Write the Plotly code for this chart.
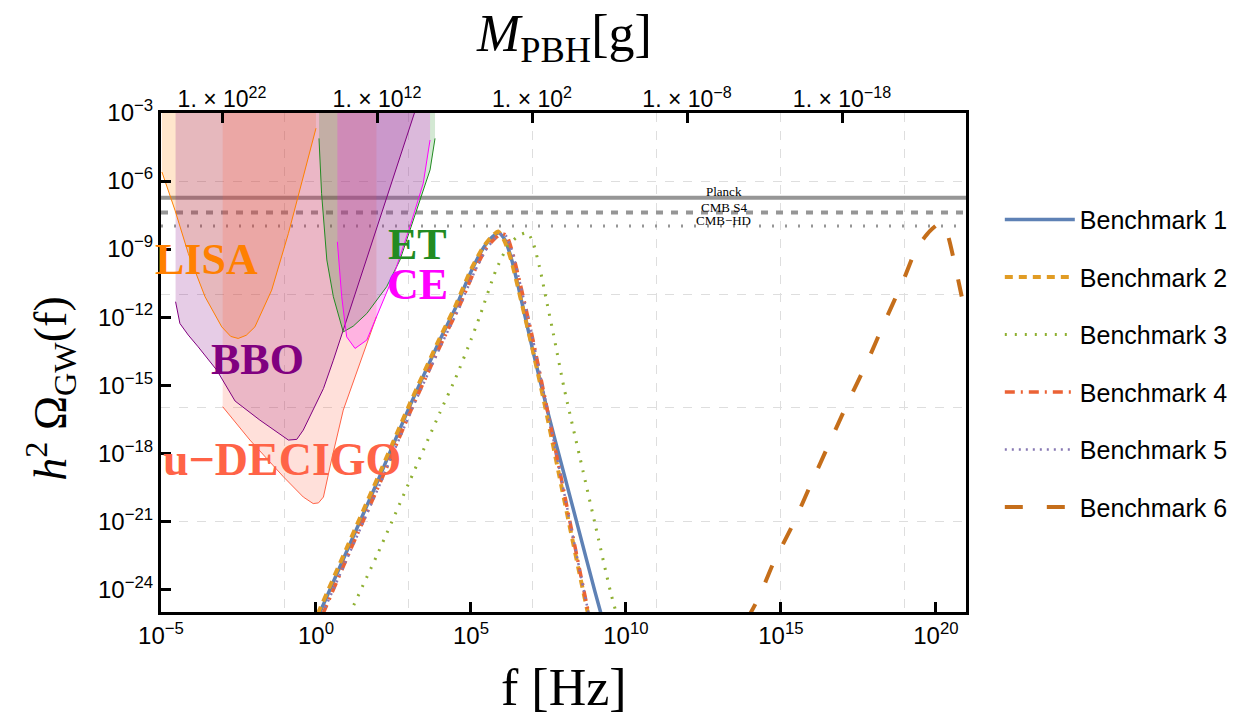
import numpy as np
import plotly.graph_objects as go

# ---------------- data (log10 f [Hz], log10 h^2 Omega_GW) ----------------
b1_logf = [0.10, 1.0, 2.0, 3.0, 4.0, 4.5, 5.0, 5.4, 5.7, 5.9, 6.1, 6.3, 6.5, 7.0, 7.5, 8.0, 8.5, 9.0, 9.2]
b1_logo = [-25.1, -22.3, -19.2, -16.0, -13.0, -11.6, -10.0, -8.95, -8.45, -8.28, -8.6, -9.4, -10.5, -13.5, -16.3, -18.9, -21.5, -24.1, -25.1]

b2_logf = [0.05, 1.0, 2.0, 3.0, 4.0, 4.5, 5.0, 5.4, 5.7, 5.88, 6.1, 6.3, 6.5, 7.0, 7.4, 8.0, 8.5, 8.78]
b2_logo = [-25.1, -22.15, -19.05, -15.9, -12.9, -11.5, -9.9, -8.9, -8.4, -8.22, -8.7, -9.5, -10.6, -13.5, -16.0, -20.0, -23.3, -25.1]

b3_logf = [1.08, 2.0, 3.0, 4.0, 4.5, 5.0, 5.3, 5.8, 6.2, 6.55, 6.82, 7.0, 7.23, 7.44, 7.66, 8.0, 8.5, 9.0, 9.5, 9.72]
b3_logo = [-25.1, -22.4, -19.3, -16.2, -14.7, -13.0, -11.9, -9.95, -8.85, -8.4, -8.28, -8.7, -9.9, -11.3, -12.75, -15.1, -18.1, -21.1, -24.1, -25.2]

b4_logf = [0.22, 1.1, 2.1, 3.1, 4.1, 4.6, 5.1, 5.5, 5.8, 6.0, 6.15, 6.35, 6.6, 7.0, 7.45, 8.0, 8.5, 8.8]
b4_logo = [-25.1, -22.3, -19.2, -16.0, -13.0, -11.6, -10.0, -8.95, -8.5, -8.32, -8.4, -9.2, -10.6, -13.0, -16.0, -19.7, -23.1, -25.1]

b5_logf = [0.2, 1.1, 2.1, 3.1, 4.1, 4.6, 5.1, 5.5, 5.8, 6.02, 6.15, 6.35, 6.6, 7.0, 7.45, 8.0, 8.5, 8.8]
b5_logo = [-25.1, -22.35, -19.25, -16.05, -13.05, -11.65, -10.05, -9.0, -8.5, -8.3, -8.45, -9.2, -10.6, -13.0, -16.0, -19.7, -23.1, -25.1]

b6_logf = [13.9, 14.32, 14.75, 15.4, 16.0, 16.58, 17.17, 17.76, 18.35, 18.95, 19.38, 19.81, 20.05, 20.22, 20.4, 20.72, 20.97]
b6_logo = [-25.35, -24.26, -22.86, -21.1, -19.26, -17.5, -15.73, -14.04, -12.2, -10.37, -8.95, -8.2, -7.92, -7.87, -8.46, -10.37, -12.0]

# detector sensitivity curves
lisa_logf = [-4.97, -4.55, -4.12, -3.58, -3.04, -2.75, -2.51, -2.25, -1.97, -1.43, -0.89, -0.46, 0.0]
lisa_logo = [-5.60, -7.28, -9.19, -11.10, -12.43, -12.85, -12.94, -12.8, -12.43, -10.81, -8.31, -6.10, -3.67]

bbo_logf = [-4.53, -4.39, -4.12, -3.80, -3.20, -2.61, -1.81, -0.89, -0.62, -0.41, 0.24, 0.56, 1.2, 2.0, 2.8, 3.2]
bbo_logo = [-11.32, -12.28, -12.79, -13.31, -14.34, -15.70, -16.54, -17.42, -17.39, -16.98, -15.15, -13.9, -11.24, -7.9, -4.6, -2.9]

decigo_logf = [-3.01, -2.13, -1.05, -0.41, -0.09, 0.08, 0.24, 0.5, 0.88, 1.3, 1.63, 1.95]
decigo_logo = [-15.95, -17.42, -19.04, -19.93, -20.22, -20.19, -19.93, -18.3, -16.1, -14.5, -13.25, -11.98]

et_logf = [0.097, 0.18, 0.35, 0.56, 0.88, 1.2, 1.64, 2.28, 2.71, 3.25, 3.68, 3.84]
et_logo = [-4.12, -6.54, -9.48, -11.10, -12.65, -12.4, -11.84, -10.66, -9.48, -7.28, -5.51, -4.12]

ce_logf = [0.69, 0.83, 0.99, 1.26, 1.64, 1.95, 2.49, 3.03, 3.46, 3.68]
ce_logo = [-8.68, -11.10, -12.87, -13.38, -13.01, -11.98, -10.22, -8.02, -6.10, -4.19]

# CMB bounds (log10 h^2 Omega)
cmb_names = ["Planck", "CMB S4", "CMB\u2212HD"]
cmb_levels = [-6.74, -7.39, -7.98]

# axes
logf_range = [-5.0, 20.97]
logo_range = [-25.0, -3.0]
x_ticks_log = [-5, 0, 5, 10, 15, 20]
y_ticks_log = [-3, -6, -9, -12, -15, -18, -21, -24]
x_grid_log = [-1, 3, 7, 11, 15, 19]
y_grid_log = [-6, -11, -16, -21]
mpbh_ticks_log = [22, 12, 2, -8, -18]
mpbh_logC = 15.94  # log10 f = (logC - log10 M)/2

bench_names = ["Benchmark 1", "Benchmark 2", "Benchmark 3", "Benchmark 4", "Benchmark 5", "Benchmark 6"]
bench_colors = ["#5E81B5", "#E19C24", "#8FB032", "#EB6235", "#8778B3", "#C56E1A"]
bench_dash = ["solid", "8px,6px", "2px,8px", "10px,6px,2px,6px", "2px,5px", "18px,24px"]
bench_width = [3.5, 4, 3, 3.5, 2.5, 4]

def p(v):
    return [10.0 ** a for a in v]

fig = go.Figure()

# CMB lines
gray = "rgb(150,150,150)"
cmb_dash = ["solid", "7px,8px", "2px,11px"]
cmb_width = [4, 4, 3]
xr = p(logf_range)
for lev, d, w in zip(cmb_levels, cmb_dash, cmb_width):
    fig.add_trace(go.Scatter(x=xr, y=[10.0 ** lev] * 2, mode="lines",
                             line=dict(color=gray, width=w, dash=d),
                             showlegend=False, hoverinfo="skip"))

# detector regions
top = logo_range[1]
detectors = [
    (lisa_logf, lisa_logo, (255, 128, 0)),
    (bbo_logf, bbo_logo, (128, 0, 128)),
    (decigo_logf, decigo_logo, (255, 99, 71)),
    (et_logf, et_logo, (34, 139, 34)),
    (ce_logf, ce_logo, (255, 0, 255)),
]
for lf, lo, c in detectors:
    px = lf + [lf[-1], lf[0], lf[0]]
    py = lo + [top, top, lo[0]]
    fig.add_trace(go.Scatter(x=p(px), y=p(py), mode="lines", fill="toself",
                             fillcolor="rgba(%d,%d,%d,0.2)" % c,
                             line=dict(width=0), showlegend=False, hoverinfo="skip"))
# detector boundary curves (on the top M_PBH axis, same f range)
for lf, lo, c in detectors:
    fig.add_trace(go.Scatter(x=p(lf), y=p(lo), mode="lines", xaxis="x2", yaxis="y",
                             line=dict(color="rgb(%d,%d,%d)" % c, width=1),
                             showlegend=False, hoverinfo="skip"))

# benchmarks (on the grid axes, same ranges)
bench = [(b1_logf, b1_logo), (b2_logf, b2_logo), (b3_logf, b3_logo),
         (b4_logf, b4_logo), (b5_logf, b5_logo), (b6_logf, b6_logo)]
for i, (lf, lo) in enumerate(bench):
    fig.add_trace(go.Scatter(x=p(lf), y=p(lo), mode="lines", name=bench_names[i],
                             xaxis="x3", yaxis="y2", legendgroup=bench_names[i],
                             line=dict(color=bench_colors[i], width=bench_width[i],
                                       dash=bench_dash[i], shape="spline", smoothing=0.6)))

tickfont = dict(family="Liberation Sans, Arial", size=24, color="black")

def sup(e):
    return "10<sup>%s</sup>" % (str(e).replace("-", "\u2212"))

fig.update_layout(
    width=1238, height=716,
    margin=dict(l=161, r=272, t=113, b=104, autoexpand=False),
    plot_bgcolor="white", paper_bgcolor="white",
    xaxis=dict(type="log", range=logf_range, showgrid=False, zeroline=False,
               tickvals=p(x_ticks_log), ticktext=[sup(e) for e in x_ticks_log],
               ticks="inside", ticklen=10, tickwidth=3, tickcolor="black",
               showline=True, linewidth=3, linecolor="black", mirror=True,
               tickfont=tickfont),
    xaxis2=dict(type="log", range=logf_range, overlaying="x", side="top", anchor="y",
                showgrid=False, zeroline=False,
                tickvals=[10.0 ** ((mpbh_logC - m) / 2) for m in mpbh_ticks_log],
                ticktext=["1. \u00d7 10<sup>%s</sup>" % str(m).replace("-", "\u2212") for m in mpbh_ticks_log],
                ticks="inside", ticklen=10, tickwidth=3, tickcolor="black",
                showline=False, tickfont=dict(family="Liberation Sans, Arial", size=23, color="black")),
    xaxis3=dict(type="log", range=logf_range, overlaying="x", anchor="y2",
                showgrid=True, gridcolor="rgb(222,222,222)", griddash="dash", gridwidth=1,
                tickvals=p(x_grid_log), showticklabels=False, ticks="", zeroline=False,
                showline=False),
    yaxis=dict(type="log", range=logo_range, showgrid=False, zeroline=False,
               tickvals=p(y_ticks_log), ticktext=[sup(e) for e in y_ticks_log],
               ticks="inside", ticklen=10, tickwidth=3, tickcolor="black",
               showline=True, linewidth=3, linecolor="black", mirror=True,
               tickfont=tickfont),
    yaxis2=dict(type="log", range=logo_range, overlaying="y", anchor="x3",
                showgrid=True, gridcolor="rgb(222,222,222)", griddash="dash", gridwidth=1,
                tickvals=p(y_grid_log), showticklabels=False, ticks="", zeroline=False,
                showline=False),
    legend=dict(x=1.042, y=0.832, xanchor="left", yanchor="top", itemwidth=70,
                font=dict(family="Liberation Sans, Arial", size=25, color="black"),
                tracegroupgap=22, bgcolor="rgba(0,0,0,0)"),
)

serif = "Liberation Serif, Times New Roman, serif"
ann = []
labels = [("LISA", -3.52, -9.48, "#FF8000", 44), ("BBO", -1.90, -13.85, "#800080", 44),
          ("u\u2212DECIGO", -1.10, -18.26, "#FF6347", 46), ("ET", 3.27, -8.78, "#228B22", 44),
          ("CE", 3.29, -10.54, "#FF00FF", 44)]
for t, lx, ly, c, s in labels:
    ann.append(dict(x=lx, y=ly, xref="x", yref="y", text="<b>%s</b>" % t, showarrow=False,
                    xanchor="center", yanchor="middle",
                    font=dict(family=serif, size=s, color=c)))
for name, ly in zip(cmb_names, [-6.44, -7.15, -7.76]):
    ann.append(dict(x=13.16, y=ly, xref="x", yref="y", text=name, showarrow=False,
                    xanchor="center", yanchor="middle",
                    font=dict(family=serif, size=13, color="black")))
ann.append(dict(x=0.5, y=-0.152, xref="paper", yref="paper", text="f [Hz]", showarrow=False,
                xanchor="center", yanchor="middle",
                font=dict(family=serif, size=52, color="black")))
ann.append(dict(x=-0.137, y=0.447, xref="paper", yref="paper",
                text="<i>h</i><sup>2</sup> \u03a9<sub>GW</sub>(f)", textangle=-90, showarrow=False,
                xanchor="center", yanchor="middle",
                font=dict(family=serif, size=46, color="black")))
ann.append(dict(x=0.5, y=1.152, xref="paper", yref="paper",
                text="<i>M</i><sub>PBH</sub>[g]", showarrow=False,
                xanchor="center", yanchor="middle",
                font=dict(family=serif, size=52, color="black")))
fig.update_layout(annotations=ann)

fig.write_html("out.html")
